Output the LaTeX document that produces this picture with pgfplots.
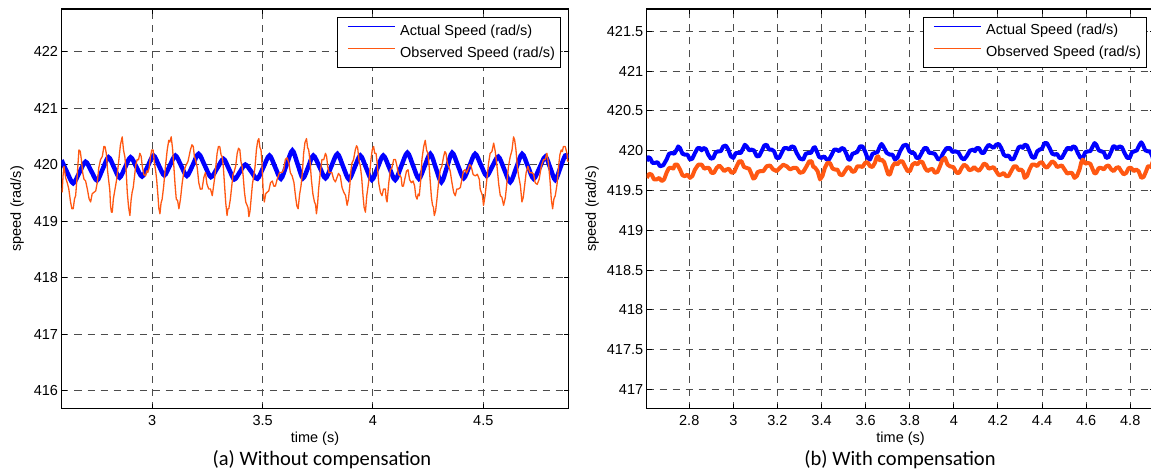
\documentclass[border=0pt]{standalone}
\usepackage{fontspec}
\setmainfont{Liberation Sans}
\newfontfamily\capfont{Carlito}
\usepackage{pgfplots}
\pgfplotsset{compat=1.18}

\definecolor{spdblue}{RGB}{0,0,255}
\definecolor{spdorange}{RGB}{255,88,18}

\pgfplotsset{
  speedaxis/.style={
    scale only axis, anchor=south west,
    height=399.5pt,
    font=\fontsize{14.5}{17}\selectfont,
    tick label style={font=\fontsize{14.5}{17}\selectfont},
    /pgf/number format/assume math mode=true,
    yticklabel style={/pgf/number format/fixed, /pgf/number format/1000 sep={}},
    xticklabel style={yshift=-3pt},
    grid=major,
    major grid style={dash pattern=on 7pt off 6pt, draw=black!70, line width=1pt},
    axis line style={line width=1.3pt},
    tick align=inside, major tick length=5pt, tick style={black, line width=1pt},
    xlabel={time (s)}, ylabel={speed (rad/s)},
    xlabel style={at={(axis description cs:0.5,-0.075)}, anchor=center},
    legend cell align=left,
    legend style={at={(1,1)}, anchor=north east, xshift=-7.5pt, yshift=-7.7pt,
      fill=white, inner xsep=5.5pt, inner ysep=6.7pt,
      row sep=7.5pt, column sep=4.6pt, font=\fontsize{14.5}{17}\selectfont,
      nodes={inner sep=0pt, text height=11pt, text depth=3.5pt}},
    every axis legend/.append style={draw=black, line width=1.2pt},
    legend image code/.code={\path (0pt,0pt); \draw[line width=1.2pt,#1] (4.5pt,4.5pt) -- (51.5pt,4.5pt);},
  }
}

\begin{document}
\begin{tikzpicture}
\path[use as bounding box] (0,0) rectangle (1151pt,475pt);

% (a) without compensation
\begin{axis}[speedaxis, at={(61.5pt,66.5pt)}, width=507pt,
  xmin=2.589, xmax=4.886, ymin=415.69, ymax=422.75,
  xtick={3,3.5,4,4.5}, ytick={416,417,418,419,420,421,422},
  ylabel style={at={(axis description cs:-0.0877,0.5)}, anchor=center}]
\addlegendimage{draw=spdblue}
\addlegendimage{draw=spdorange}
\addplot[spdblue, line width=4.5pt, smooth, forget plot] coordinates {
(2.589,420.08) (2.615,419.86) (2.642,419.67) (2.670,419.86)
(2.698,420.05) (2.724,419.885) (2.750,419.72) (2.776,419.925)
(2.802,420.13) (2.827,419.95) (2.852,419.77) (2.877,419.95)
(2.902,420.13) (2.928,419.96) (2.954,419.79) (2.980,419.975)
(3.006,420.16) (3.030,419.985) (3.055,419.81) (3.080,419.985)
(3.105,420.16) (3.131,419.98) (3.157,419.80) (3.184,419.995)
(3.210,420.19) (3.238,419.985) (3.266,419.78) (3.295,419.94)
(3.323,420.10) (3.348,419.92) (3.372,419.74) (3.397,419.87)
(3.422,420.00) (3.449,419.875) (3.476,419.75) (3.504,419.955)
(3.531,420.16) (3.557,419.955) (3.583,419.75) (3.609,420.00)
(3.635,420.25) (3.659,420.005) (3.683,419.76) (3.707,419.96)
(3.730,420.16) (3.758,419.96) (3.785,419.76) (3.812,419.975)
(3.839,420.19) (3.865,419.965) (3.891,419.74) (3.917,419.95)
(3.943,420.16) (3.969,419.945) (3.995,419.73) (4.021,419.945)
(4.047,420.16) (4.074,419.945) (4.101,419.73) (4.128,419.97)
(4.156,420.21) (4.182,419.98) (4.208,419.75) (4.234,419.97)
(4.260,420.19) (4.285,419.94) (4.310,419.69) (4.335,419.95)
(4.359,420.21) (4.385,419.985) (4.411,419.76) (4.437,419.975)
(4.463,420.19) (4.489,419.995) (4.515,419.80) (4.541,419.97)
(4.568,420.14) (4.595,419.915) (4.622,419.69) (4.649,419.94)
(4.676,420.19) (4.702,419.97) (4.728,419.75) (4.755,419.945)
(4.781,420.14) (4.804,419.935) (4.826,419.73) (4.849,419.945)
(4.871,420.16) (4.886,420.12)
};
\addplot[spdorange, line width=1.3pt, line join=round, forget plot] coordinates {
(2.592,419.51) (2.596,419.80) (2.600,419.97) (2.608,419.765) (2.615,419.68) (2.622,419.57)
(2.630,419.34) (2.636,419.22) (2.642,419.22) (2.648,419.395) (2.653,419.45) (2.660,419.795)
(2.668,420.26) (2.674,420.235) (2.679,420.09) (2.685,419.855) (2.691,419.74) (2.698,419.715)
(2.706,419.57) (2.714,419.395) (2.721,419.34) (2.728,419.485) (2.736,419.51) (2.744,419.535)
(2.751,419.68) (2.758,419.945) (2.766,420.09) (2.774,420.145) (2.781,420.32) (2.786,420.32)
(2.792,420.20) (2.798,419.88) (2.804,419.68) (2.808,419.54) (2.811,419.28) (2.815,419.16)
(2.819,419.16) (2.824,419.395) (2.829,419.51) (2.839,419.74) (2.849,420.09) (2.856,420.35)
(2.864,420.49) (2.870,420.255) (2.876,420.14) (2.882,419.885) (2.887,419.51) (2.893,419.245)
(2.899,419.10) (2.904,419.365) (2.909,419.51) (2.914,419.595) (2.920,419.80) (2.926,420.005)
(2.932,420.09) (2.938,420.085) (2.944,420.20) (2.950,420.145) (2.955,419.97) (2.962,419.825)
(2.970,419.80) (2.975,419.89) (2.980,419.86) (2.986,419.94) (2.992,420.14) (2.998,420.26)
(3.004,420.26) (3.010,420.025) (3.015,419.91) (3.020,419.74) (3.026,419.45) (3.030,419.23)
(3.035,419.13) (3.040,419.32) (3.045,419.39) (3.052,419.62) (3.060,419.97) (3.068,420.26)
(3.075,420.43) (3.080,420.40) (3.086,420.49) (3.092,420.29) (3.098,419.97) (3.104,419.62)
(3.109,419.39) (3.115,419.365) (3.121,419.22) (3.128,419.39) (3.136,419.68) (3.144,419.885)
(3.151,419.97) (3.162,420.055) (3.173,420.26) (3.180,420.35) (3.186,420.32) (3.191,420.145)
(3.196,420.09) (3.204,419.945) (3.211,419.68) (3.218,419.565) (3.226,419.57) (3.234,419.775)
(3.241,419.86) (3.248,419.655) (3.256,419.57) (3.264,419.57) (3.272,419.45) (3.283,419.765)
(3.294,420.20) (3.300,420.32) (3.306,420.32) (3.312,420.17) (3.317,420.14) (3.322,419.97)
(3.327,419.68) (3.333,419.33) (3.339,419.10) (3.343,419.22) (3.347,419.22) (3.354,419.39)
(3.362,419.68) (3.366,419.83) (3.370,419.86) (3.378,419.97) (3.385,420.20) (3.391,420.29)
(3.397,420.26) (3.402,420.055) (3.407,419.97) (3.412,419.80) (3.418,419.51) (3.424,419.335)
(3.430,419.28) (3.434,419.24) (3.438,419.08) (3.443,419.175) (3.448,419.39) (3.454,419.655)
(3.460,419.80) (3.466,419.97) (3.472,420.26) (3.478,420.42) (3.483,420.46) (3.488,420.30)
(3.493,420.26) (3.497,420.03) (3.501,419.68) (3.504,419.45) (3.508,419.34) (3.514,419.485)
(3.520,419.51) (3.528,419.535) (3.536,419.68) (3.544,419.71) (3.551,419.62) (3.558,419.62)
(3.566,419.74) (3.577,419.86) (3.588,419.86) (3.596,419.915) (3.603,420.09) (3.611,420.12)
(3.619,420.03) (3.626,419.855) (3.634,419.80) (3.642,419.685) (3.649,419.45) (3.655,419.275)
(3.661,419.22) (3.668,419.48) (3.674,419.62) (3.680,419.85) (3.686,420.20) (3.692,420.39)
(3.699,420.46) (3.704,420.30) (3.709,420.26) (3.715,420.06) (3.721,419.74) (3.728,419.48)
(3.735,419.34) (3.740,419.295) (3.744,419.13) (3.749,419.29) (3.754,419.57) (3.762,419.89)
(3.769,420.09) (3.777,420.085) (3.785,420.20) (3.790,420.145) (3.795,419.97) (3.801,419.855)
(3.807,419.86) (3.814,419.86) (3.822,419.74) (3.830,419.695) (3.837,419.77) (3.844,419.845)
(3.852,419.80) (3.860,419.595) (3.868,419.51) (3.876,419.455) (3.883,419.28) (3.889,419.39)
(3.895,419.62) (3.900,419.885) (3.905,420.03) (3.912,420.085) (3.920,420.26) (3.926,420.335)
(3.931,420.29) (3.937,420.07) (3.943,419.97) (3.949,419.77) (3.955,419.45) (3.960,419.245)
(3.966,419.16) (3.972,419.45) (3.978,419.62) (3.984,419.795) (3.991,420.09) (3.997,420.265)
(4.003,420.32) (4.008,420.20) (4.014,420.20) (4.020,420.00) (4.026,419.68) (4.034,419.505)
(4.041,419.45) (4.048,419.57) (4.056,419.57) (4.060,419.395) (4.064,419.34) (4.072,419.685)
(4.079,419.91) (4.086,419.94) (4.094,420.09) (4.102,420.09) (4.109,419.97) (4.116,419.825)
(4.124,419.80) (4.128,419.77) (4.132,419.62) (4.138,419.62) (4.144,419.74) (4.152,419.885)
(4.159,419.91) (4.166,419.735) (4.174,419.68) (4.182,419.71) (4.189,419.62) (4.194,419.445)
(4.200,419.39) (4.205,419.48) (4.210,419.45) (4.216,419.71) (4.222,420.09) (4.230,420.32)
(4.237,420.43) (4.243,420.255) (4.249,420.20) (4.254,420.00) (4.260,419.68) (4.265,419.42)
(4.270,419.28) (4.274,419.25) (4.278,419.10) (4.284,419.185) (4.290,419.39) (4.298,419.71)
(4.305,419.91) (4.312,419.965) (4.320,420.14) (4.326,420.23) (4.331,420.20) (4.337,420.025)
(4.343,419.97) (4.350,419.885) (4.358,419.68) (4.366,419.505) (4.373,419.45) (4.380,419.57)
(4.388,419.57) (4.396,419.595) (4.403,419.74) (4.410,419.885) (4.418,419.91) (4.424,419.85)
(4.430,419.91) (4.438,420.00) (4.445,419.97) (4.454,419.825) (4.464,419.80) (4.473,419.83)
(4.482,419.74) (4.486,419.565) (4.491,419.51) (4.496,419.455) (4.501,419.28) (4.508,419.45)
(4.516,419.74) (4.524,420.03) (4.531,420.20) (4.539,420.23) (4.547,420.38) (4.554,420.235)
(4.562,419.97) (4.570,419.65) (4.577,419.45) (4.584,419.425) (4.592,419.28) (4.600,419.42)
(4.607,419.68) (4.614,419.97) (4.622,420.14) (4.630,420.255) (4.637,420.49) (4.642,420.435)
(4.648,420.26) (4.654,419.97) (4.660,419.80) (4.668,419.63) (4.675,419.34) (4.681,419.42)
(4.687,419.62) (4.694,419.855) (4.702,419.97) (4.711,419.855) (4.720,419.86) (4.728,419.83)
(4.735,419.68) (4.744,419.65) (4.753,419.74) (4.763,419.975) (4.773,420.09) (4.780,420.085)
(4.788,420.20) (4.796,420.00) (4.803,419.68) (4.808,419.39) (4.814,419.22) (4.820,419.395)
(4.826,419.45) (4.834,419.65) (4.841,419.97) (4.847,420.175) (4.853,420.26) (4.858,420.23)
(4.863,420.32) (4.871,420.32) (4.879,420.20) (4.882,420.065) (4.886,420.05)
};
\legend{Actual Speed (rad/s), Observed Speed (rad/s)}
\end{axis}

% (b) with compensation
\begin{axis}[speedaxis, at={(646.7pt,66.5pt)}, width=507.8pt,
  xmin=2.607, xmax=4.91, ymin=416.76, ymax=421.78,
  xtick={2.8,3,3.2,3.4,3.6,3.8,4,4.2,4.4,4.6,4.8},
  ytick={417,417.5,418,418.5,419,419.5,420,420.5,421,421.5},
  ylabel style={at={(axis description cs:-0.1077,0.5)}, anchor=center}]
\addlegendimage{draw=spdblue}
\addlegendimage{draw=spdorange}
\addplot[spdblue, line width=4pt, line join=round, forget plot] coordinates {
(2.607,419.867) (2.614,419.918) (2.622,419.908) (2.633,419.847) (2.644,419.846) (2.656,419.855)
(2.667,419.804) (2.682,419.816) (2.697,419.888) (2.708,419.960) (2.720,419.971) (2.732,419.962)
(2.743,420.013) (2.750,420.053) (2.758,420.033) (2.769,419.962) (2.780,419.950) (2.792,419.949)
(2.803,419.888) (2.814,419.900) (2.826,419.971) (2.838,420.032) (2.849,420.033) (2.856,420.003)
(2.864,420.033) (2.875,420.022) (2.886,419.950) (2.898,419.899) (2.909,419.908) (2.920,419.980)
(2.932,419.992) (2.943,419.993) (2.954,420.054) (2.966,420.064) (2.977,420.013) (2.988,419.931)
(3.000,419.908) (3.011,419.970) (3.022,419.971) (3.034,419.972) (3.045,420.033) (3.052,420.074)
(3.060,420.054) (3.072,420.004) (3.083,420.013) (3.094,420.001) (3.106,419.929) (3.117,419.931)
(3.128,419.992) (3.140,420.064) (3.151,420.075) (3.162,420.014) (3.174,420.013) (3.185,419.991)
(3.196,419.908) (3.208,419.910) (3.219,419.971) (3.230,420.032) (3.242,420.033) (3.253,420.014)
(3.264,420.054) (3.276,420.043) (3.287,419.971) (3.302,419.900) (3.317,419.888) (3.328,419.960)
(3.340,419.971) (3.352,419.972) (3.363,420.033) (3.370,420.043) (3.378,419.992) (3.389,419.920)
(3.400,419.908) (3.412,419.928) (3.423,419.888) (3.434,419.889) (3.446,419.950) (3.457,420.012)
(3.468,420.013) (3.480,419.993) (3.491,420.033) (3.502,420.022) (3.514,419.950) (3.522,419.889)
(3.529,419.888) (3.540,419.960) (3.551,419.971) (3.562,419.983) (3.574,420.054) (3.586,420.053)
(3.597,419.992) (3.608,419.910) (3.620,419.888) (3.631,419.960) (3.642,419.971) (3.654,419.983)
(3.665,420.054) (3.672,420.084) (3.680,420.054) (3.695,419.972) (3.710,419.950) (3.722,419.949)
(3.733,419.888) (3.744,419.910) (3.756,419.992) (3.771,420.064) (3.786,420.075) (3.798,419.993)
(3.809,419.971) (3.820,419.970) (3.831,419.908) (3.842,419.910) (3.854,419.971) (3.866,420.032)
(3.877,420.033) (3.888,419.972) (3.899,419.971) (3.914,419.960) (3.929,419.888) (3.940,419.900)
(3.952,419.971) (3.967,420.032) (3.982,420.033) (3.994,419.983) (4.005,419.992) (4.020,419.980)
(4.035,419.908) (4.046,419.889) (4.058,419.929) (4.073,420.001) (4.088,420.013) (4.096,419.993)
(4.103,420.033) (4.114,420.032) (4.126,419.971) (4.136,419.972) (4.147,420.033) (4.158,420.074)
(4.169,420.054) (4.180,420.035) (4.192,420.075) (4.204,420.084) (4.215,420.033) (4.226,419.951)
(4.237,419.929) (4.248,419.939) (4.260,419.888) (4.272,419.900) (4.283,419.971) (4.294,420.043)
(4.305,420.054) (4.313,420.035) (4.321,420.075) (4.332,420.064) (4.343,419.992) (4.354,419.920)
(4.366,419.908) (4.378,419.991) (4.389,420.013) (4.400,420.025) (4.411,420.096) (4.422,420.095)
(4.434,420.033) (4.446,419.962) (4.457,419.950) (4.468,419.959) (4.479,419.908) (4.490,419.910)
(4.502,419.971) (4.514,420.032) (4.525,420.033) (4.532,420.014) (4.540,420.054) (4.551,420.043)
(4.562,419.971) (4.574,419.910) (4.585,419.908) (4.596,419.980) (4.608,419.992) (4.619,419.993)
(4.630,420.054) (4.638,420.095) (4.646,420.075) (4.657,420.004) (4.668,419.992) (4.680,419.980)
(4.691,419.908) (4.702,419.920) (4.714,419.992) (4.722,420.053) (4.729,420.054) (4.740,420.024)
(4.751,420.054) (4.762,420.043) (4.774,419.971) (4.786,419.910) (4.797,419.908) (4.808,419.980)
(4.819,419.992) (4.830,420.004) (4.842,420.075) (4.850,420.105) (4.857,420.075) (4.868,420.004)
(4.880,419.992) (4.890,419.991) (4.900,419.929) (4.905,419.885) (4.910,419.900)
};
\addplot[spdorange, line width=4pt, line join=round, forget plot] coordinates {
(2.607,419.658) (2.618,419.709) (2.629,419.700) (2.640,419.639) (2.652,419.638) (2.664,419.658)
(2.675,419.617) (2.686,419.639) (2.697,419.721) (2.708,419.782) (2.720,419.783) (2.728,419.774)
(2.735,419.825) (2.746,419.824) (2.758,419.763) (2.769,419.691) (2.780,419.679) (2.792,419.699)
(2.803,419.658) (2.814,419.681) (2.826,419.763) (2.841,419.824) (2.856,419.825) (2.868,419.774)
(2.879,419.783) (2.890,419.782) (2.901,419.721) (2.912,419.722) (2.924,419.783) (2.936,419.813)
(2.947,419.783) (2.958,419.743) (2.969,419.763) (2.980,419.772) (2.992,419.721) (3.004,419.733)
(3.015,419.804) (3.026,419.866) (3.037,419.867) (3.048,419.795) (3.060,419.783) (3.072,419.772)
(3.083,419.700) (3.090,419.649) (3.098,419.658) (3.110,419.730) (3.121,419.742) (3.136,419.743)
(3.151,419.804) (3.166,419.814) (3.181,419.763) (3.196,419.743) (3.211,419.783) (3.226,419.824)
(3.242,419.804) (3.257,419.764) (3.272,419.783) (3.287,419.782) (3.302,419.721) (3.317,419.733)
(3.332,419.804) (3.344,419.866) (3.355,419.867) (3.362,419.798) (3.370,419.788) (3.382,419.743)
(3.393,419.638) (3.404,419.681) (3.415,419.783) (3.426,419.845) (3.438,419.846) (3.450,419.775)
(3.461,419.763) (3.472,419.762) (3.483,419.700) (3.494,419.691) (3.506,419.742) (3.518,419.793)
(3.529,419.783) (3.540,419.733) (3.551,419.742) (3.562,419.803) (3.574,419.804) (3.586,419.795)
(3.597,419.846) (3.608,419.855) (3.620,419.804) (3.631,419.795) (3.642,419.846) (3.650,419.918)
(3.657,419.929) (3.664,419.879) (3.672,419.888) (3.684,419.856) (3.695,419.763) (3.702,419.702)
(3.710,419.700) (3.722,419.803) (3.733,419.846) (3.744,419.827) (3.756,419.867) (3.767,419.866)
(3.778,419.804) (3.790,419.743) (3.801,419.742) (3.812,419.824) (3.824,419.846) (3.835,419.827)
(3.846,419.867) (3.858,419.855) (3.869,419.783) (3.880,419.743) (3.892,419.763) (3.903,419.772)
(3.914,419.721) (3.926,419.733) (3.937,419.804) (3.948,419.886) (3.960,419.908) (3.971,419.826)
(3.982,419.804) (3.998,419.793) (4.013,419.721) (4.024,419.722) (4.035,419.783) (4.046,419.824)
(4.058,419.804) (4.070,419.754) (4.081,419.763) (4.092,419.793) (4.103,419.763) (4.114,419.747)
(4.126,419.790) (4.136,419.838) (4.147,419.825) (4.158,419.774) (4.169,419.783) (4.180,419.793)
(4.192,419.742) (4.204,419.691) (4.215,419.700) (4.226,419.720) (4.237,419.679) (4.248,419.681)
(4.260,419.742) (4.272,419.803) (4.283,419.804) (4.294,419.754) (4.305,419.763) (4.313,419.741)
(4.321,419.658) (4.332,419.681) (4.343,419.763) (4.354,419.824) (4.366,419.825) (4.378,419.806)
(4.389,419.846) (4.400,419.855) (4.411,419.804) (4.422,419.785) (4.434,419.825) (4.446,419.866)
(4.457,419.846) (4.468,419.795) (4.479,419.804) (4.490,419.814) (4.502,419.763) (4.514,419.712)
(4.525,419.721) (4.536,419.720) (4.547,419.658) (4.558,419.681) (4.570,419.763) (4.578,419.856)
(4.585,419.888) (4.596,419.837) (4.608,419.846) (4.619,419.835) (4.630,419.763) (4.638,419.712)
(4.646,419.721) (4.657,419.782) (4.668,419.783) (4.680,419.764) (4.691,419.804) (4.702,419.814)
(4.714,419.763) (4.725,419.743) (4.736,419.783) (4.748,419.793) (4.759,419.742) (4.770,419.702)
(4.782,419.721) (4.793,419.782) (4.804,419.783) (4.816,419.743) (4.827,419.763) (4.838,419.741)
(4.850,419.658) (4.861,419.670) (4.872,419.742) (4.880,419.803) (4.887,419.804) (4.894,419.795)
(4.900,419.846) (4.905,419.883) (4.910,419.860)
};
\legend{Actual Speed (rad/s), Observed Speed (rad/s)}
\end{axis}

\node[font={\capfont\fontsize{20.5}{24}\selectfont}] at (322pt,15pt) {(a) Without compensation};
\node[font={\capfont\fontsize{20.5}{24}\selectfont}] at (900pt,15pt) {(b) With compensation};
\end{tikzpicture}
\end{document}
